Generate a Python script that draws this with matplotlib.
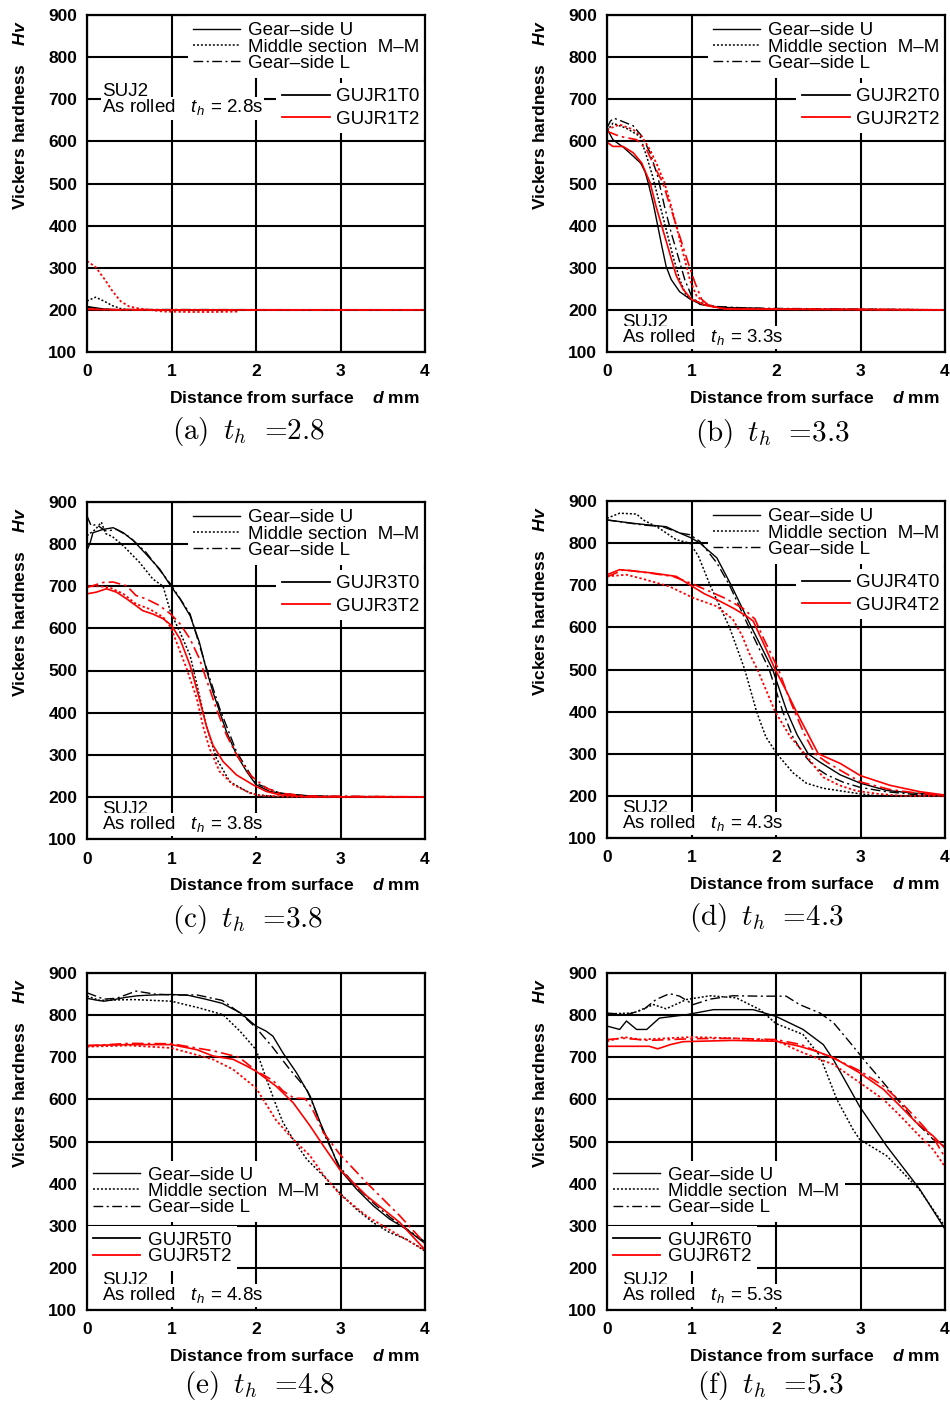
import matplotlib
matplotlib.use('Agg')
import matplotlib.pyplot as plt
from matplotlib.lines import Line2D

plt.rcParams['font.family'] = ['Liberation Sans', 'DejaVu Sans']
plt.rcParams['mathtext.fontset'] = 'custom'
plt.rcParams['mathtext.rm'] = 'cmr10'
plt.rcParams['mathtext.it'] = 'cmmi10'
plt.rcParams['mathtext.sf'] = 'Liberation Sans:italic'
plt.rcParams['mathtext.bf'] = 'Liberation Sans:italic:bold'
plt.rcParams['axes.unicode_minus'] = False

# ---------------- axes / labels ----------------
X_TICKS = [0, 1, 2, 3, 4]
Y_TICKS = [100, 200, 300, 400, 500, 600, 700, 800, 900]
STYLE_LABELS = ["Gear\u2013side U", "Middle section  M\u2013M", "Gear\u2013side L"]
PANEL_TAGS = ["(a)", "(b)", "(c)", "(d)", "(e)", "(f)"]
TH_VALUES = ["2.8", "3.3", "3.8", "4.3", "4.8", "5.3"]
SPEC_NUM = [1, 2, 3, 4, 5, 6]

# ---------------- panel (a) ----------------
a_U_T0_x = [0, 0.1, 0.2, 0.3, 4.0]
a_U_T0_y = [208, 205, 202, 200, 200]
a_M_T0_x = [0, 0.1, 0.2, 0.3, 0.4, 0.5, 0.6]
a_M_T0_y = [221, 230, 221, 210, 203, 200, 200]
a_L_T0_x = [0, 0.15, 0.3, 4.0]
a_L_T0_y = [206, 203, 201, 200]
a_U_T2_x = [0, 1.0, 2.0, 3.0, 4.0]
a_U_T2_y = [201, 200, 200, 200, 200]
a_M_T2_x = [0, 0.1, 0.2, 0.3, 0.4, 0.5, 0.6, 0.7, 0.9, 1.2, 1.5, 1.8]
a_M_T2_y = [316, 302, 275, 245, 220, 208, 204, 201, 196, 195, 195, 196]
a_L_T2_x = [0, 0.3, 4.0]
a_L_T2_y = [202, 200, 200]

# ---------------- panel (b) ----------------
b_U_T0_x = [0, 0.07, 0.2, 0.31, 0.40, 0.45, 0.49, 0.55, 0.60, 0.65, 0.70, 0.76, 0.86, 0.98, 1.1, 1.3, 1.5, 1.8, 2.0, 4.0]
b_U_T0_y = [630, 604, 585, 565, 548, 528, 500, 450, 400, 350, 303, 272, 243, 226, 214, 206, 205, 204, 200, 200]
b_M_T0_x = [0, 0.07, 0.23, 0.39, 0.47, 0.54, 0.62, 0.70, 0.78, 0.86, 0.94, 1.06, 1.26, 1.6, 4.0]
b_M_T0_y = [625, 643, 631, 612, 564, 517, 454, 391, 328, 272, 233, 220, 208, 203, 200]
b_L_T0_x = [0, 0.04, 0.08, 0.15, 0.31, 0.41, 0.51, 0.60, 0.68, 0.76, 0.84, 0.92, 1.0, 1.1, 1.3, 1.7, 4.0]
b_L_T0_y = [632, 648, 655, 650, 637, 613, 573, 517, 446, 383, 328, 272, 233, 213, 208, 204, 200]
b_U_T2_x = [0, 0.07, 0.19, 0.31, 0.41, 0.51, 0.58, 0.66, 0.74, 0.82, 0.90, 1.0, 1.18, 1.41, 4.0]
b_U_T2_y = [598, 588, 588, 573, 549, 502, 446, 391, 336, 281, 249, 225, 210, 202, 200]
b_M_T2_x = [0, 0.15, 0.31, 0.41, 0.51, 0.60, 0.68, 0.76, 0.84, 0.92, 0.98, 1.06, 1.18, 1.37, 4.0]
b_M_T2_y = [628, 640, 628, 612, 580, 541, 502, 446, 383, 320, 272, 233, 213, 203, 200]
b_L_T2_x = [0, 0.15, 0.35, 0.47, 0.56, 0.66, 0.76, 0.86, 0.96, 1.04, 1.12, 1.22, 1.41, 4.0]
b_L_T2_y = [624, 612, 604, 580, 541, 502, 438, 375, 312, 265, 225, 208, 202, 200]

# ---------------- panel (c) ----------------
c_U_T0_x = [0, 0.04, 0.07, 0.19, 0.31, 0.43, 0.55, 0.70, 0.86, 0.99, 1.10, 1.22, 1.33, 1.41, 1.49, 1.57, 1.65, 1.77, 1.89, 2.0, 2.16, 2.35, 2.6, 3.0, 4.0]
c_U_T0_y = [785, 805, 827, 835, 839, 827, 808, 776, 741, 701, 670, 630, 567, 504, 449, 402, 355, 300, 260, 229, 213, 207, 203, 200, 200]
c_M_T0_x = [0, 0.1, 0.17, 0.22, 0.3, 0.43, 0.62, 0.78, 0.9, 0.99, 1.10, 1.22, 1.33, 1.41, 1.53, 1.69, 1.89, 2.0, 2.3, 4.0]
c_M_T0_y = [820, 835, 852, 825, 818, 796, 757, 717, 700, 638, 591, 536, 441, 370, 292, 236, 213, 205, 200, 200]
c_L_T0_x = [0, 0.05, 0.11, 0.17, 0.23, 0.35, 0.51, 0.70, 0.99, 1.22, 1.41, 1.57, 1.77, 2.0, 2.28, 2.6, 4.0]
c_L_T0_y = [867, 843, 847, 838, 831, 835, 816, 780, 705, 634, 508, 410, 307, 232, 209, 202, 200]
c_U_T2_x = [0, 0.11, 0.23, 0.35, 0.47, 0.58, 0.66, 0.78, 0.90, 1.0, 1.10, 1.22, 1.33, 1.41, 1.49, 1.61, 1.77, 1.97, 2.12, 2.28, 2.6, 4.0]
c_U_T2_y = [682, 686, 694, 686, 670, 654, 642, 634, 623, 607, 575, 512, 433, 370, 323, 284, 252, 228, 213, 205, 200, 200]
c_M_T2_x = [0, 0.15, 0.27, 0.43, 0.58, 0.74, 0.90, 0.99, 1.06, 1.18, 1.30, 1.37, 1.45, 1.57, 1.73, 1.93, 2.05, 2.4, 4.0]
c_M_T2_y = [700, 700, 697, 682, 658, 646, 627, 603, 567, 504, 433, 370, 315, 260, 229, 209, 203, 200, 200]
c_L_T2_x = [0, 0.19, 0.31, 0.47, 0.58, 0.70, 0.86, 0.99, 1.10, 1.22, 1.33, 1.45, 1.53, 1.65, 1.77, 1.93, 2.12, 2.28, 2.6, 4.0]
c_L_T2_y = [697, 709, 710, 701, 678, 670, 654, 634, 611, 575, 528, 457, 410, 347, 300, 252, 221, 209, 202, 200]

# ---------------- panel (d) ----------------
d_U_T0_x = [0, 0.31, 0.5, 0.70, 0.86, 1.0, 1.10, 1.30, 1.47, 1.71, 1.96, 2.13, 2.25, 2.38, 2.52, 2.76, 3.0, 3.31, 3.55, 3.8, 4.0]
d_U_T0_y = [855, 847, 843, 839, 824, 812, 800, 765, 700, 600, 500, 400, 345, 300, 280, 250, 230, 213, 208, 204, 200]
d_M_T0_x = [0, 0.15, 0.35, 0.43, 0.62, 0.82, 0.98, 1.08, 1.22, 1.45, 1.63, 1.77, 1.88, 2.01, 2.2, 2.36, 2.56, 2.76, 2.99, 3.2, 4.0]
d_M_T0_y = [859, 871, 869, 855, 835, 808, 800, 770, 700, 600, 500, 400, 340, 300, 255, 230, 218, 212, 205, 200, 200]
d_L_T0_x = [0, 0.43, 0.66, 0.86, 0.98, 1.10, 1.30, 1.45, 1.68, 1.92, 2.08, 2.2, 2.32, 2.45, 2.6, 2.8, 3.0, 3.3, 3.6, 4.0]
d_L_T0_y = [855, 843, 839, 824, 820, 804, 753, 700, 600, 500, 400, 340, 300, 270, 250, 232, 220, 210, 204, 200]
d_U_T2_x = [0, 0.15, 0.35, 0.54, 0.82, 0.98, 1.15, 1.30, 1.50, 1.65, 1.73, 1.85, 1.99, 2.12, 2.24, 2.37, 2.5, 2.76, 3.0, 3.35, 3.7, 4.0]
d_U_T2_y = [725, 737, 733, 729, 721, 701, 680, 666, 645, 627, 615, 563, 500, 450, 400, 350, 300, 277, 248, 225, 210, 202]
d_M_T2_x = [0, 0.23, 0.39, 0.6, 0.74, 1.02, 1.30, 1.49, 1.6, 1.68, 1.78, 1.99, 2.17, 2.34, 2.56, 2.75, 2.95, 3.2, 3.5, 4.0]
d_M_T2_y = [721, 725, 717, 705, 697, 670, 650, 619, 580, 540, 500, 400, 340, 300, 244, 225, 212, 205, 200, 200]
d_L_T2_x = [0, 0.2, 0.5, 0.78, 0.99, 1.22, 1.41, 1.61, 1.75, 1.85, 2.03, 2.12, 2.22, 2.34, 2.46, 2.6, 2.76, 3.0, 3.35, 3.7, 4.0]
d_L_T2_y = [720, 737, 729, 721, 705, 685, 668, 645, 620, 575, 500, 450, 400, 345, 300, 280, 261, 233, 215, 206, 200]

# ---------------- panel (e) ----------------
e_U_T0_x = [0, 0.1, 0.2, 0.3, 0.45, 0.6, 0.8, 1.0, 1.2, 1.4, 1.6, 1.81, 2.0, 2.12, 2.2, 2.32, 2.48, 2.64, 2.76, 2.88, 2.99, 3.19, 3.39, 3.58, 3.78, 4.0]
e_U_T0_y = [840, 836, 833, 836, 842, 846, 848, 849, 847, 838, 828, 806, 774, 762, 750, 710, 663, 608, 545, 489, 434, 387, 347, 316, 292, 258]
e_M_T0_x = [0, 0.15, 0.55, 1.0, 1.33, 1.61, 1.81, 2.0, 2.12, 2.24, 2.32, 2.44, 2.6, 2.8, 2.99, 3.19, 3.39, 3.58, 3.78, 4.0]
e_M_T0_y = [845, 835, 837, 833, 817, 801, 762, 718, 650, 585, 545, 505, 458, 418, 378, 339, 307, 284, 268, 240]
e_L_T0_x = [0, 0.2, 0.35, 0.58, 0.8, 1.0, 1.3, 1.6, 1.81, 2.0, 2.2, 2.4, 2.6, 2.7, 2.8, 2.99, 3.2, 3.4, 3.6, 3.8, 4.0]
e_L_T0_y = [853, 838, 840, 857, 850, 848, 848, 835, 805, 770, 723, 671, 624, 575, 520, 440, 390, 352, 318, 290, 262]
e_U_T2_x = [0, 0.5, 1.0, 1.3, 1.49, 1.73, 1.89, 2.0, 2.24, 2.44, 2.64, 2.8, 2.99, 3.31, 3.7, 4.0]
e_U_T2_y = [728, 730, 730, 718, 703, 695, 679, 667, 631, 592, 537, 489, 434, 371, 308, 243]
e_M_T2_x = [0, 0.5, 1.0, 1.49, 1.73, 2.0, 2.24, 2.44, 2.64, 2.8, 2.99, 3.31, 3.7, 4.0]
e_M_T2_y = [725, 728, 722, 695, 671, 627, 550, 505, 466, 420, 375, 323, 276, 242]
e_L_T2_x = [0, 0.5, 1.0, 1.5, 1.8, 2.0, 2.2, 2.32, 2.45, 2.58, 2.66, 2.8, 2.99, 3.31, 3.7, 4.0]
e_L_T2_y = [727, 733, 732, 715, 700, 668, 645, 620, 603, 602, 580, 521, 470, 402, 324, 258]

# ---------------- panel (f) ----------------
f_U_T0_x = [0, 0.15, 0.23, 0.35, 0.47, 0.62, 0.94, 1.26, 1.73, 2.0, 2.32, 2.56, 2.68, 2.99, 3.31, 3.70, 4.0]
f_U_T0_y = [774, 766, 786, 766, 766, 793, 801, 813, 813, 797, 766, 730, 694, 583, 489, 387, 292]
f_M_T0_x = [0, 0.31, 0.55, 0.70, 0.94, 1.22, 1.53, 1.81, 2.0, 2.32, 2.52, 2.72, 2.91, 2.99, 3.31, 3.70, 4.0]
f_M_T0_y = [803, 805, 825, 815, 837, 846, 841, 813, 780, 754, 703, 600, 529, 505, 466, 385, 298]
f_L_T0_x = [0, 0.23, 0.43, 0.58, 0.74, 0.86, 1.02, 1.22, 1.49, 1.81, 2.12, 2.28, 2.52, 2.68, 2.88, 3.07, 3.27, 3.47, 3.66, 3.86, 4.0]
f_L_T0_y = [805, 801, 813, 837, 851, 845, 825, 838, 846, 845, 845, 825, 805, 782, 734, 687, 640, 592, 545, 505, 488]
f_U_T2_x = [0, 0.31, 0.5, 0.6, 0.75, 0.9, 1.49, 2.0, 2.28, 2.48, 2.68, 2.99, 3.27, 3.47, 3.66, 3.86, 4.0]
f_U_T2_y = [726, 726, 726, 720, 730, 737, 740, 738, 726, 714, 699, 663, 624, 584, 545, 513, 484]
f_M_T2_x = [0, 0.2, 0.4, 0.7, 1.0, 1.5, 2.0, 2.28, 2.52, 2.68, 2.99, 3.27, 3.47, 3.66, 3.86, 4.0]
f_M_T2_y = [738, 748, 742, 745, 748, 745, 740, 714, 695, 683, 640, 600, 561, 521, 481, 440]
f_L_T2_x = [0, 0.2, 0.5, 1.0, 1.5, 2.0, 2.3, 2.5, 2.68, 2.99, 3.27, 3.47, 3.66, 3.86, 4.0]
f_L_T2_y = [742, 745, 740, 744, 745, 742, 730, 712, 698, 668, 632, 595, 555, 510, 462]

PANEL_DATA = [
    [(a_U_T0_x, a_U_T0_y), (a_M_T0_x, a_M_T0_y), (a_L_T0_x, a_L_T0_y),
     (a_U_T2_x, a_U_T2_y), (a_M_T2_x, a_M_T2_y), (a_L_T2_x, a_L_T2_y)],
    [(b_U_T0_x, b_U_T0_y), (b_M_T0_x, b_M_T0_y), (b_L_T0_x, b_L_T0_y),
     (b_U_T2_x, b_U_T2_y), (b_M_T2_x, b_M_T2_y), (b_L_T2_x, b_L_T2_y)],
    [(c_U_T0_x, c_U_T0_y), (c_M_T0_x, c_M_T0_y), (c_L_T0_x, c_L_T0_y),
     (c_U_T2_x, c_U_T2_y), (c_M_T2_x, c_M_T2_y), (c_L_T2_x, c_L_T2_y)],
    [(d_U_T0_x, d_U_T0_y), (d_M_T0_x, d_M_T0_y), (d_L_T0_x, d_L_T0_y),
     (d_U_T2_x, d_U_T2_y), (d_M_T2_x, d_M_T2_y), (d_L_T2_x, d_L_T2_y)],
    [(e_U_T0_x, e_U_T0_y), (e_M_T0_x, e_M_T0_y), (e_L_T0_x, e_L_T0_y),
     (e_U_T2_x, e_U_T2_y), (e_M_T2_x, e_M_T2_y), (e_L_T2_x, e_L_T2_y)],
    [(f_U_T0_x, f_U_T0_y), (f_M_T0_x, f_M_T0_y), (f_L_T0_x, f_L_T0_y),
     (f_U_T2_x, f_U_T2_y), (f_M_T2_x, f_M_T2_y), (f_L_T2_x, f_L_T2_y)],
]

# ---------------- styles / layout ----------------
RED = '#ff0000'
LS_SOLID = '-'
LS_DOT = (0, (1.3, 1.3))
LS_DASHDOT = (0, (7, 2.5, 1.5, 2.5))
CURVE_STYLES = [(LS_SOLID, 'black', 1.0), (LS_DOT, 'black', 1.1), (LS_DASHDOT, 'black', 1.0),
                (LS_SOLID, RED, 1.2), (LS_DOT, RED, 1.3), (LS_DASHDOT, RED, 1.2)]

W, H = 950, 1403
AX_POS = [(87, 15), (607, 15), (87, 502), (607, 501), (87, 973), (607, 973)]
AX_W, AX_H = 338, 337
CAPTION_POS = [(248, 431), (772, 433), (248, 920), (766, 918), (260, 1386), (771, 1386)]

fig = plt.figure(figsize=(W / 100, H / 100), dpi=100)

FS = 13.5
CAP_FAMILY = ['cmr10', 'DejaVu Serif']

for i in range(6):
    lx, ty = AX_POS[i]
    ax = fig.add_axes([lx / W, 1 - (ty + AX_H) / H, AX_W / W, AX_H / H])
    ax.set_xlim(0, 4)
    ax.set_ylim(100, 900)
    ax.set_xticks(X_TICKS)
    ax.set_yticks(Y_TICKS)
    ax.grid(True, color='black', lw=1.5, zorder=0.5)
    ax.set_axisbelow(True)
    ax.tick_params(length=0, labelsize=12.5)
    ax.tick_params(axis='y', pad=7)
    ax.tick_params(axis='x', pad=9)
    for lbl in ax.get_xticklabels() + ax.get_yticklabels():
        lbl.set_fontweight('bold')
    for sp in ax.spines.values():
        sp.set_linewidth(1.6)
        sp.set_zorder(6)

    for (xs, ys), (ls, col, lw) in zip(PANEL_DATA[i], CURVE_STYLES):
        ax.plot(xs, ys, linestyle=ls, color=col, lw=lw, zorder=3)

    h1 = [Line2D([], [], color='black', lw=1.0, linestyle=LS_SOLID),
          Line2D([], [], color='black', lw=1.1, linestyle=LS_DOT),
          Line2D([], [], color='black', lw=1.0, linestyle=LS_DASHDOT)]
    h2 = [Line2D([], [], color='black', lw=1.3), Line2D([], [], color=RED, lw=1.3)]
    l2 = [f"GUJR{SPEC_NUM[i]}T0", f"GUJR{SPEC_NUM[i]}T2"]
    common = dict(fontsize=FS, borderpad=0.3, borderaxespad=0, frameon=True,
                  fancybox=False, edgecolor='none', facecolor='white', framealpha=1)
    if i < 4:
        leg1 = ax.legend(h1, STYLE_LABELS, loc='center right', bbox_to_anchor=(1.0, 0.905),
                         handlelength=2.5, handletextpad=0.43, labelspacing=-0.04, **common)
        ax.add_artist(leg1)
        leg2 = ax.legend(h2, l2, loc='center right', bbox_to_anchor=(1.0, 0.724),
                         handlelength=2.56, handletextpad=0.32, labelspacing=0.28, **common)
    else:
        leg1 = ax.legend(h1, STYLE_LABELS, loc='center left', bbox_to_anchor=(0.0, 0.352),
                         handlelength=2.5, handletextpad=0.45, labelspacing=-0.04, **common)
        ax.add_artist(leg1)
        leg2 = ax.legend(h2, l2, loc='center left', bbox_to_anchor=(0.0, 0.182),
                         handlelength=2.5, handletextpad=0.45, labelspacing=-0.04, **common)
    # legend boxes mask the grid but stay beneath the curves
    leg1.set_zorder(2)
    leg2.set_zorder(2)

    # material text
    if i == 0:
        y1, y2 = 0.772, 0.723
    else:
        y1, y2 = 0.089, 0.042
    bb = dict(facecolor='white', edgecolor='none', pad=1.0)
    ax.text(0.044, y1, "SUJ2", transform=ax.transAxes, fontsize=FS, va='center', ha='left',
            bbox=bb, zorder=2)
    ax.text(0.044, y2, r"As rolled   $\mathsf{t}_\mathsf{h}$ = " + TH_VALUES[i] + "s",
            transform=ax.transAxes, fontsize=FS, va='center', ha='left', bbox=bb, zorder=2)

    # axis labels
    ax.text(-0.198, 0.985, r"Vickers hardness    $\mathbf{Hv}$", transform=ax.transAxes,
            rotation=90, fontsize=12.6, fontweight='bold', va='top', ha='center')
    ax.text(0.985, -0.137, r"Distance from surface    $\mathbf{d}$ mm", transform=ax.transAxes,
            fontsize=12.6, fontweight='bold', va='center', ha='right')

    # caption
    cx, cy = CAPTION_POS[i]
    fig.text(cx / W, 1 - cy / H, PANEL_TAGS[i] + r" $\,t_h\;$ =" + TH_VALUES[i],
             family=CAP_FAMILY, fontsize=21, ha='center', va='center')

fig.savefig('out.png', dpi=100)
